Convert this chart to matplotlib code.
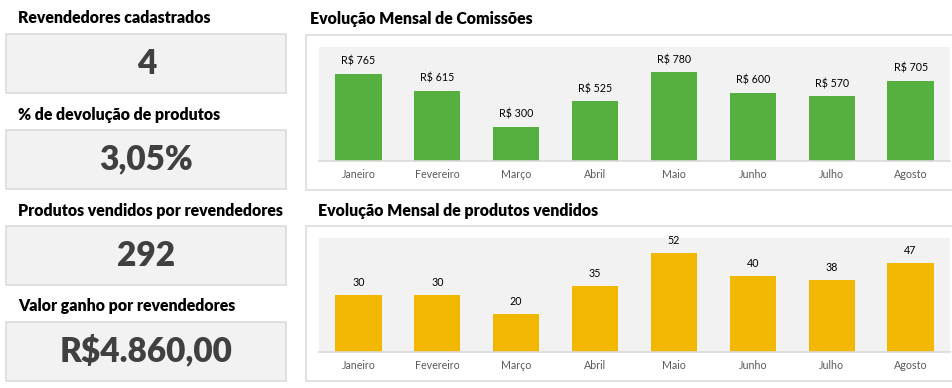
import matplotlib
matplotlib.use("Agg")
import matplotlib.pyplot as plt
from matplotlib.patches import Rectangle

W, H = 953, 388
FONT = ["Lato", "DejaVu Sans"]
plt.rcParams['font.family'] = FONT

# ---- data ----
kpi_titles = ["Revendedores cadastrados", "% de devolução de produtos",
              "Produtos vendidos por revendedores", "Valor ganho por revendedores"]
kpi_values = ["4", "3,05%", "292", "R$4.860,00"]

months = ["Janeiro", "Fevereiro", "Março", "Abril", "Maio", "Junho", "Julho", "Agosto"]
comissoes = [765, 615, 300, 525, 780, 600, 570, 705]
produtos = [30, 30, 20, 35, 52, 40, 38, 47]

chart_titles = ["Evolução Mensal de Comissões", "Evolução Mensal de produtos vendidos"]

GREEN = "#55B040"
GOLD = "#F2B700"
BOXFILL = "#F2F2F2"
BORDER = "#D9D9D9"

fig = plt.figure(figsize=(W / 100, H / 100), dpi=100)
fig.patch.set_facecolor("white")

bg = fig.add_axes([0, 0, 1, 1], zorder=0)
bg.set_xlim(0, W)
bg.set_ylim(H, 0)
bg.axis("off")

def px_axes(x0, y0, x1, y1, **kw):
    return fig.add_axes([x0 / W, 1 - y1 / H, (x1 - x0) / W, (y1 - y0) / H], **kw)

# ---- KPI cards ----
title_y = [18, 115, 211, 306]
box_y = [(33, 92), (129, 188), (225, 284), (321, 380)]
for t, v, ty, (b0, b1) in zip(kpi_titles, kpi_values, title_y, box_y):
    bg.text(18, ty, t, fontsize=11.4, fontweight="heavy", color="black",
            va="center", ha="left")
    bg.add_patch(Rectangle((6.5, b0 + 0.5), 280, b1 - b0, facecolor=BOXFILL,
                           edgecolor=BORDER, linewidth=1.1))
    bg.text(146.5, (b0 + b1) / 2 + 1, v, fontsize=24, fontweight="heavy",
            color="#404040", va="center", ha="center")

# ---- chart frames ----
frames = [(34, 189), (225, 380)]
ctitle_pos = [(310, 19), (318, 211)]
for (f0, f1), (tx, ty), ct in zip(frames, ctitle_pos, chart_titles):
    bg.add_patch(Rectangle((306.5, f0 + 0.5), 660, f1 - f0, facecolor="white",
                           edgecolor=BORDER, linewidth=1.1))
    bg.text(tx, ty, ct, fontsize=11.4, fontweight="heavy", color="black",
            va="center", ha="left")

def bar_chart(ax, values, color, ymax, labels):
    x = list(range(len(months)))
    ax.set_facecolor(BOXFILL)
    bars = ax.bar(x, values, width=0.585, color=color, zorder=2)
    ax.set_xlim(-0.5, len(months) - 0.5)
    ax.set_ylim(0, ymax)
    for s in ["top", "left", "right"]:
        ax.spines[s].set_visible(False)
    ax.spines["bottom"].set_color(BORDER)
    ax.spines["bottom"].set_linewidth(1.2)
    ax.set_yticks([])
    ax.set_xticks(x)
    ax.set_xticklabels(months, fontsize=7.7, color="#595959")
    ax.tick_params(axis="x", length=0, pad=6)
    ax.bar_label(bars, labels=labels, padding=5, fontsize=7.7, color="black")

ax1 = px_axes(319, 47, 950, 161, zorder=2)
bar_chart(ax1, comissoes, GREEN, 1000, [f"R$ {v}" for v in comissoes])

ax2 = px_axes(319, 238, 950, 352, zorder=2)
bar_chart(ax2, produtos, GOLD, 60, [str(v) for v in produtos])

fig.savefig("out.png", dpi=100)
